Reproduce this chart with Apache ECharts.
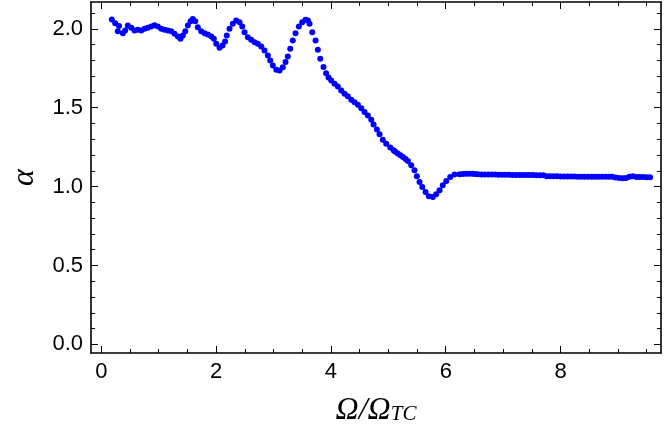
<!DOCTYPE html>
<html>
<head>
<meta charset="utf-8">
<script src="https://cdn.jsdelivr.net/npm/echarts@6/dist/echarts.min.js"></script>
<style>
  html, body { margin: 0; padding: 0; background: #fff; }
  #chart { width: 664px; height: 438px; }
</style>
</head>
<body>
<div id="chart"></div>
<script>
// Ω/Ω_TC values
var omegaRatio = [
  0.183, 0.242, 0.287, 0.308, 0.375, 0.416, 0.462, 0.521, 0.578, 0.636,
  0.695, 0.753, 0.810, 0.869, 0.927, 0.984, 1.044, 1.101, 1.159, 1.218,
  1.275, 1.333, 1.380, 1.420, 1.462, 1.507, 1.554, 1.594, 1.636, 1.681,
  1.740, 1.798, 1.855, 1.915, 1.960, 2.002, 2.059, 2.111, 2.155, 2.186,
  2.233, 2.291, 2.350, 2.408, 2.455, 2.495, 2.552, 2.611, 2.669, 2.726,
  2.786, 2.843, 2.901, 2.943, 2.988, 3.047, 3.105, 3.162, 3.209, 3.249,
  3.291, 3.336, 3.383, 3.441, 3.500, 3.557, 3.598, 3.627, 3.674, 3.732,
  3.772, 3.814, 3.871, 3.915, 3.958, 4.005, 4.063, 4.120, 4.179, 4.237,
  4.294, 4.354, 4.411, 4.469, 4.528, 4.585, 4.643, 4.702, 4.742, 4.800,
  4.847, 4.904, 4.963, 5.033, 5.091, 5.120, 5.165, 5.210, 5.253, 5.300,
  5.340, 5.399, 5.456, 5.497, 5.544, 5.591, 5.648, 5.706, 5.775, 5.834,
  5.892, 5.949, 6.009, 6.078, 6.153, 6.240, 6.300, 6.357, 6.415, 6.472,
  6.515, 6.559,
  6.62, 6.68, 6.74, 6.80, 6.86, 6.92, 6.98, 7.04, 7.10, 7.16,
  7.22, 7.28, 7.34, 7.40, 7.46, 7.52, 7.58, 7.64, 7.70, 7.76,
  7.82, 7.88, 7.94, 8.00, 8.06, 8.12, 8.18, 8.24, 8.30, 8.36,
  8.42, 8.48, 8.54, 8.60, 8.66, 8.72, 8.78, 8.84, 8.90, 8.96,
  9.02, 9.08, 9.14, 9.20, 9.26, 9.32, 9.38, 9.44, 9.50, 9.56
];
// α values
var alpha = [
  2.059, 2.035, 1.985, 2.018, 1.972, 1.989, 2.021, 2.006, 1.989, 1.994,
  1.989, 2.000, 2.006, 2.015, 2.023, 2.015, 2.000, 1.994, 1.989, 1.985,
  1.968, 1.951, 1.937, 1.958, 1.985, 2.021, 2.048, 2.063, 2.048, 2.010,
  1.985, 1.972, 1.964, 1.951, 1.937, 1.905, 1.880, 1.894, 1.920, 1.958,
  2.000, 2.032, 2.053, 2.042, 2.015, 1.978, 1.947, 1.930, 1.915, 1.905,
  1.888, 1.863, 1.831, 1.799, 1.768, 1.741, 1.736, 1.757, 1.789, 1.825,
  1.873, 1.926, 1.972, 2.015, 2.042, 2.057, 2.053, 2.032, 1.978, 1.926,
  1.867, 1.810, 1.758, 1.719, 1.692, 1.673, 1.652, 1.635, 1.609, 1.589,
  1.572, 1.551, 1.535, 1.519, 1.497, 1.472, 1.451, 1.424, 1.394, 1.361,
  1.331, 1.297, 1.272, 1.247, 1.230, 1.220, 1.209, 1.198, 1.187, 1.175,
  1.162, 1.135, 1.103, 1.065, 1.029, 0.997, 0.966, 0.939, 0.934, 0.951,
  0.977, 1.008, 1.035, 1.061, 1.076, 1.078, 1.080, 1.082, 1.082, 1.082,
  1.080, 1.078,
  1.077, 1.077, 1.076, 1.076, 1.076, 1.075, 1.075, 1.075, 1.075, 1.074,
  1.074, 1.074, 1.074, 1.073, 1.073, 1.073, 1.072, 1.072, 1.071, 1.066,
  1.065, 1.065, 1.065, 1.064, 1.064, 1.064, 1.064, 1.064, 1.063, 1.063,
  1.063, 1.063, 1.063, 1.063, 1.062, 1.062, 1.062, 1.062, 1.062, 1.058,
  1.055, 1.053, 1.055, 1.062, 1.066, 1.060, 1.060, 1.060, 1.059, 1.059
];

// tick positions
var xMajor = [0, 2, 4, 6, 8];
var xMinor = [0.5, 1, 1.5, 2.5, 3, 3.5, 4.5, 5, 5.5, 6.5, 7, 7.5, 8.5, 9, 9.5];
var yMajor = [0, 0.5, 1, 1.5, 2];
var yMinor = [0.1, 0.2, 0.3, 0.4, 0.6, 0.7, 0.8, 0.9, 1.1, 1.2, 1.3, 1.4, 1.6, 1.7, 1.8, 1.9, 2.1];

var X_MIN = -0.18, X_MAX = 9.75;
var Y_MIN = -0.055, Y_MAX = 2.17;

var points = [];
for (var i = 0; i < omegaRatio.length; i++) {
  points.push([omegaRatio[i], alpha[i]]);
}

var lbl = { fontSize: 22, color: '#000', fontFamily: 'Liberation Sans' };

// one axis on one side of the frame
function sideAxis(pos, min, max, ticks, len, withLine, withLabel, fmt) {
  return {
    type: 'value',
    position: pos,
    min: min,
    max: max,
    axisLine: { show: withLine, onZero: false, lineStyle: { color: '#000', width: 1.6 } },
    axisTick: { show: true, inside: true, length: len, customValues: ticks, lineStyle: { color: '#000', width: 1 } },
    axisLabel: withLabel ? {
      show: true, customValues: ticks, margin: 8,
      fontSize: lbl.fontSize, color: lbl.color, fontFamily: lbl.fontFamily,
      formatter: fmt
    } : { show: false },
    splitLine: { show: false }
  };
}

var xBottom = sideAxis('bottom', X_MIN, X_MAX, xMajor, 7, true, true, function (v) { return String(v); });
xBottom.name = '{a|Ω/Ω}{b|TC}';
xBottom.nameLocation = 'middle';
xBottom.nameGap = 40;
xBottom.nameTextStyle = {
  rich: {
    a: { fontSize: 32, fontStyle: 'italic', fontFamily: 'Liberation Serif', color: '#000', lineHeight: 36 },
    b: { fontSize: 21, fontStyle: 'italic', fontFamily: 'Liberation Serif', color: '#000', lineHeight: 36, verticalAlign: 'bottom', padding: [0, 0, 4, 0] }
  }
};

var yLeft = sideAxis('left', Y_MIN, Y_MAX, yMajor, 7, true, true, function (v) { return v.toFixed(1); });
yLeft.name = 'α';
yLeft.nameLocation = 'middle';
yLeft.nameGap = 50;
yLeft.nameTextStyle = { fontSize: 32, fontStyle: 'italic', fontFamily: 'Liberation Serif', color: '#000' };

var option = {
  animation: false,
  backgroundColor: '#fff',
  grid: { left: 91, right: 3, top: 2, bottom: 85, containLabel: false },
  xAxis: [
    xBottom,
    sideAxis('top', X_MIN, X_MAX, xMajor, 7, true, false),
    sideAxis('bottom', X_MIN, X_MAX, xMinor, 4, false, false),
    sideAxis('top', X_MIN, X_MAX, xMinor, 4, false, false)
  ],
  yAxis: [
    yLeft,
    sideAxis('right', Y_MIN, Y_MAX, yMajor, 7, true, false),
    sideAxis('left', Y_MIN, Y_MAX, yMinor, 4, false, false),
    sideAxis('right', Y_MIN, Y_MAX, yMinor, 4, false, false)
  ],
  series: [{
    type: 'scatter',
    xAxisIndex: 0,
    yAxisIndex: 0,
    symbol: 'circle',
    symbolSize: 6,
    itemStyle: { color: '#0000ff', opacity: 1 },
    data: points
  }]
};

var chart = echarts.init(document.getElementById('chart'), null, { renderer: 'canvas' });
chart.setOption(option);
</script>
</body>
</html>
